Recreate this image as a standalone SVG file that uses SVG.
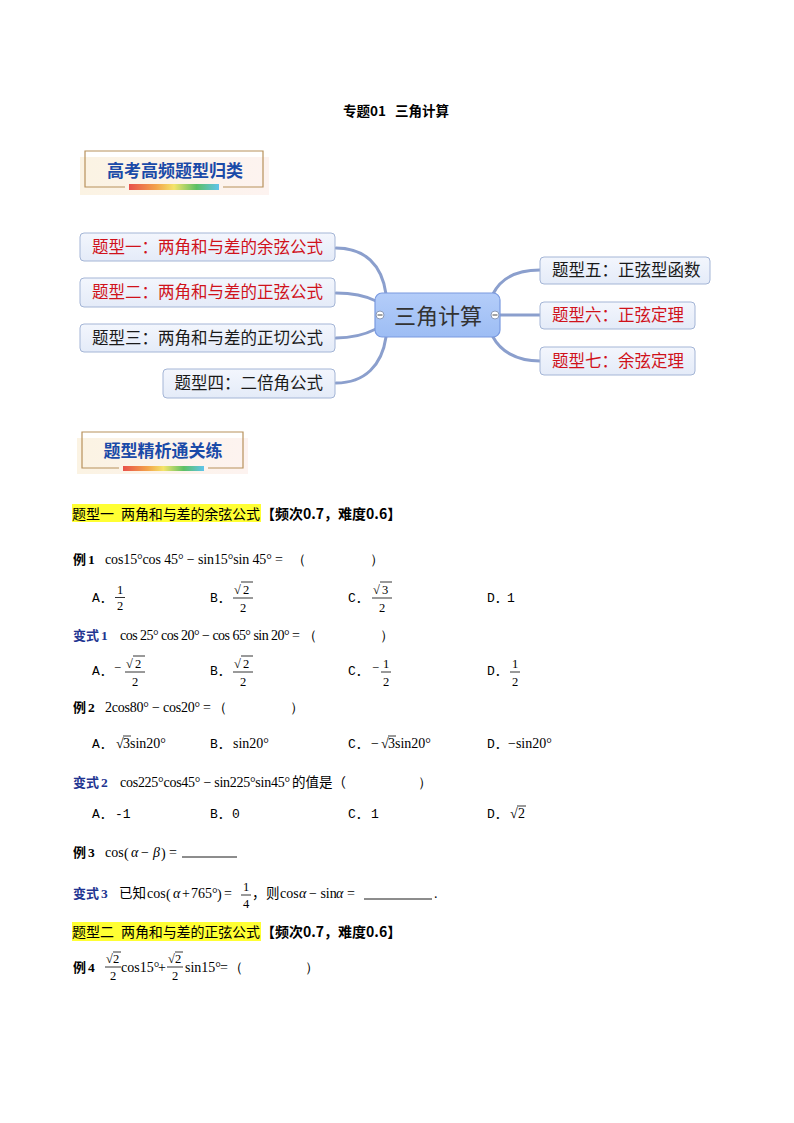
<svg xmlns="http://www.w3.org/2000/svg" width="794" height="1123" viewBox="0 0 794 1123">
<defs>
<linearGradient id="rainbow" x1="0" y1="0" x2="1" y2="0">
<stop offset="0" stop-color="#e8504a"/>
<stop offset="0.3" stop-color="#f3a24a"/>
<stop offset="0.5" stop-color="#f4e46a"/>
<stop offset="0.75" stop-color="#5cc064"/>
<stop offset="1" stop-color="#5ec4ec"/>
</linearGradient>
<linearGradient id="bannerbg" x1="0" y1="0" x2="1" y2="0">
<stop offset="0" stop-color="#fbf3e3"/>
<stop offset="1" stop-color="#fdf3f0"/>
</linearGradient>
<linearGradient id="nodebg" x1="0" y1="0" x2="0" y2="1">
<stop offset="0" stop-color="#f3f6fd"/>
<stop offset="1" stop-color="#e4ebf8"/>
</linearGradient>
<linearGradient id="centerbg" x1="0" y1="0" x2="0" y2="1">
<stop offset="0" stop-color="#b4cdf9"/>
<stop offset="1" stop-color="#9dbdf4"/>
</linearGradient>
<style>
.title{font-family:"Noto Sans CJK SC",sans-serif;font-size:13.5px;font-weight:bold;fill:#000;}
.banner{font-family:"Noto Sans CJK SC",sans-serif;font-size:17px;font-weight:bold;fill:#1a4aa8;}
.node rect{fill:url(#nodebg);stroke:#a4b5d6;stroke-width:1;}
.ntext{font-family:"Noto Sans CJK SC",sans-serif;font-size:16.5px;}
.red{fill:#d0121b;}
.blk{fill:#1a1a1a;}
.conn{fill:none;stroke:#8b9fcd;stroke-width:3;stroke-linecap:round;}
.hl{fill:#ffff33;}
.head{font-family:"Noto Sans CJK SC",sans-serif;font-size:14px;fill:#000;}
.headb{font-family:"Noto Sans CJK SC",sans-serif;font-size:14px;font-weight:bold;fill:#000;}
.lab{font-family:"Noto Sans CJK SC",sans-serif;font-size:13px;font-weight:bold;fill:#000;}
.labb{font-family:"Noto Sans CJK SC",sans-serif;font-size:13px;font-weight:bold;fill:#1f3591;}
.num{font-family:"Liberation Serif",serif;font-size:13.5px;font-weight:bold;}
.m{font-family:"Liberation Serif","Times New Roman",serif;font-size:14px;fill:#000;}
.ms{font-family:"Liberation Serif","Times New Roman",serif;font-size:12.5px;fill:#000;}
.opt{font-family:"Liberation Mono","Noto Sans CJK SC",monospace;font-size:13px;fill:#000;}
.zh{font-family:"Noto Sans CJK SC",sans-serif;font-size:13.5px;fill:#000;}
.bar{stroke:#000;stroke-width:0.8;}
.ul{stroke:#000;stroke-width:0.9;}
</style>
</defs>
<rect width="794" height="1123" fill="#fff"/>

<text class="title" x="343" y="116">专题01</text>
<text class="title" x="395" y="116">三角计算</text>

<g id="banner1">
<rect x="80" y="157" width="189" height="38" fill="url(#bannerbg)"/>
<path d="M125 187 H85 V151 H263 V187 H223" fill="none" stroke="#b8925c" stroke-width="1.2"/>
<rect x="129" y="184" width="90" height="6" fill="url(#rainbow)"/>
<text class="banner" x="175" y="177" text-anchor="middle">高考高频题型归类</text>
</g>

<g id="connectors">
<path class="conn" d="M336 248 C365 248 382 265 386 294"/>
<path class="conn" d="M336 293 C355 293 366 296 376 301"/>
<path class="conn" d="M336 338 C355 338 366 334 376 329"/>
<path class="conn" d="M336 383 C365 383 382 365 386 337"/>
<path class="conn" d="M493 294 C500 280 515 270 540 270"/>
<path class="conn" d="M500 315 H540"/>
<path class="conn" d="M493 337 C500 350 515 361 540 361"/>
</g>

<g id="center">
<rect x="375" y="293" width="125" height="44" rx="7" fill="url(#centerbg)" stroke="#7a9ae0" stroke-width="1.2"/>
<text x="438" y="324" text-anchor="middle" font-family="Noto Sans CJK SC, sans-serif" font-size="22" fill="#333">三角计算</text>
<circle cx="380" cy="315" r="4" fill="#fff" stroke="#8a9ab8" stroke-width="1"/>
<line x1="377.5" y1="315" x2="382.5" y2="315" stroke="#666" stroke-width="1.2"/>
<circle cx="495" cy="315" r="4" fill="#fff" stroke="#8a9ab8" stroke-width="1"/>
<line x1="492.5" y1="315" x2="497.5" y2="315" stroke="#666" stroke-width="1.2"/>
</g>

<g id="n1" class="node"><rect x="80" y="233" width="255" height="28" rx="4"/><text class="ntext red" x="323" y="253" text-anchor="end">题型一：两角和与差的余弦公式</text></g>
<g id="n2" class="node"><rect x="80" y="278" width="255" height="29" rx="4"/><text class="ntext red" x="323" y="298" text-anchor="end">题型二：两角和与差的正弦公式</text></g>
<g id="n3" class="node"><rect x="80" y="324" width="255" height="28" rx="4"/><text class="ntext blk" x="323" y="344" text-anchor="end">题型三：两角和与差的正切公式</text></g>
<g id="n4" class="node"><rect x="163" y="369" width="172" height="29" rx="4"/><text class="ntext blk" x="323" y="389" text-anchor="end">题型四：二倍角公式</text></g>
<g id="n5" class="node"><rect x="540" y="257" width="170" height="27" rx="4"/><text class="ntext blk" x="552" y="276">题型五：正弦型函数</text></g>
<g id="n6" class="node"><rect x="540" y="302" width="155" height="27" rx="4"/><text class="ntext red" x="552" y="321">题型六：正弦定理</text></g>
<g id="n7" class="node"><rect x="540" y="347" width="155" height="28" rx="4"/><text class="ntext red" x="552" y="367">题型七：余弦定理</text></g>

<g id="banner2">
<rect x="77" y="438" width="171" height="36" fill="url(#bannerbg)"/>
<path d="M119 468 H82 V432 H243 V468 H208" fill="none" stroke="#b8925c" stroke-width="1.2"/>
<rect x="123" y="466" width="81" height="5" fill="url(#rainbow)"/>
<text class="banner" x="163" y="457" text-anchor="middle">题型精析通关练</text>
</g>

<!-- Section 1 heading -->
<rect class="hl" x="72" y="504" width="189" height="18"/>
<text class="head" x="72" y="519">题型一</text>
<text class="head" x="121" y="519" textLength="139" lengthAdjust="spacing">两角和与差的余弦公式</text>
<text class="headb" x="261" y="519">【频次0.7，难度0.6】</text>

<!-- 例1 -->
<text class="lab" x="73" y="564">例</text><text class="num" x="88" y="564">1</text>
<text class="m" x="105" y="564" textLength="178" lengthAdjust="spacing">cos15°cos 45° − sin15°sin 45° =</text>
<text class="m" x="292" y="564">（</text>
<text class="m" x="370" y="564">）</text>

<text class="opt" x="92" y="602">A．</text>
<text class="ms" x="120" y="594" text-anchor="middle">1</text><line class="bar" x1="115" y1="597.5" x2="125" y2="597.5"/><text class="ms" x="120" y="610" text-anchor="middle">2</text>
<text class="opt" x="210" y="602">B．</text>
<text class="ms" x="234" y="594">√</text><line class="bar" x1="241" y1="582" x2="253" y2="582"/><text class="ms" x="243" y="594">2</text><line class="bar" x1="233" y1="598" x2="253" y2="598"/><text class="ms" x="243" y="612" text-anchor="middle">2</text>
<text class="opt" x="348" y="602">C．</text>
<text class="ms" x="373" y="594">√</text><line class="bar" x1="380" y1="582" x2="392" y2="582"/><text class="ms" x="382" y="594">3</text><line class="bar" x1="372" y1="598" x2="392" y2="598"/><text class="ms" x="382" y="612" text-anchor="middle">2</text>
<text class="opt" x="487" y="602">D．</text><text class="opt" x="507" y="602">1</text>

<!-- 变式1 -->
<text class="labb" x="73" y="640">变式</text><text class="num" x="101" y="640" fill="#1f3591">1</text>
<text class="m" x="120" y="640" textLength="180" lengthAdjust="spacing">cos 25° cos 20° − cos 65° sin 20° =</text>
<text class="m" x="303" y="640">（</text>
<text class="m" x="380" y="640">）</text>

<text class="opt" x="92" y="675">A．</text>
<text class="ms" x="114" y="672">−</text>
<text class="ms" x="126" y="668">√</text><line class="bar" x1="133" y1="656" x2="145" y2="656"/><text class="ms" x="135" y="668">2</text><line class="bar" x1="125" y1="672" x2="145" y2="672"/><text class="ms" x="135" y="686" text-anchor="middle">2</text>
<text class="opt" x="210" y="675">B．</text>
<text class="ms" x="234" y="668">√</text><line class="bar" x1="241" y1="656" x2="253" y2="656"/><text class="ms" x="243" y="668">2</text><line class="bar" x1="233" y1="672" x2="253" y2="672"/><text class="ms" x="243" y="686" text-anchor="middle">2</text>
<text class="opt" x="348" y="675">C．</text>
<text class="ms" x="372" y="672">−</text>
<text class="ms" x="386" y="668" text-anchor="middle">1</text><line class="bar" x1="381" y1="672" x2="391" y2="672"/><text class="ms" x="386" y="686" text-anchor="middle">2</text>
<text class="opt" x="487" y="675">D．</text>
<text class="ms" x="515" y="668" text-anchor="middle">1</text><line class="bar" x1="510" y1="672" x2="520" y2="672"/><text class="ms" x="515" y="686" text-anchor="middle">2</text>

<!-- 例2 -->
<text class="lab" x="73" y="712">例</text><text class="num" x="88" y="712">2</text>
<text class="m" x="105" y="712" textLength="106" lengthAdjust="spacing">2cos80° − cos20° =</text>
<text class="m" x="213" y="712">（</text>
<text class="m" x="290" y="712">）</text>

<text class="opt" x="92" y="748">A．</text>
<text class="m" x="116" y="748">√</text><line class="bar" x1="123" y1="736" x2="131" y2="736"/><text class="m" x="123" y="748">3sin20°</text>
<text class="opt" x="210" y="748">B．</text><text class="m" x="233" y="748">sin20°</text>
<text class="opt" x="348" y="748">C．</text>
<text class="m" x="371" y="748">−</text><text class="m" x="381" y="748">√</text><line class="bar" x1="388" y1="736" x2="396" y2="736"/><text class="m" x="388" y="748">3sin20°</text>
<text class="opt" x="487" y="748">D．</text><text class="m" x="508" y="748">−sin20°</text>

<!-- 变式2 -->
<text class="labb" x="73" y="787">变式</text><text class="num" x="101" y="787" fill="#1f3591">2</text>
<text class="m" x="120" y="787" textLength="170" lengthAdjust="spacing">cos225°cos45° − sin225°sin45°</text>
<text class="zh" x="292" y="787">的值是（</text>
<text class="m" x="418" y="787">）</text>

<text class="opt" x="92" y="818">A．</text><text class="opt" x="115" y="818">-1</text>
<text class="opt" x="210" y="818">B．</text><text class="opt" x="232" y="818">0</text>
<text class="opt" x="348" y="818">C．</text><text class="opt" x="371" y="818">1</text>
<text class="opt" x="487" y="818">D．</text>
<text class="m" x="510" y="818">√</text><line class="bar" x1="517" y1="806" x2="526" y2="806"/><text class="m" x="518" y="818">2</text>

<!-- 例3 -->
<text class="lab" x="73" y="857">例</text><text class="num" x="88" y="857">3</text>
<text class="m" x="105" y="857">cos</text>
<text class="m" x="124" y="858" font-size="17">(</text>
<text class="m" x="131" y="857" font-style="italic">α</text>
<text class="m" x="141" y="857">−</text>
<text class="m" x="153" y="857" font-style="italic">β</text>
<text class="m" x="161" y="858" font-size="17">)</text>
<text class="m" x="169" y="857">=</text>
<line class="ul" x1="182" y1="857" x2="237" y2="857"/>

<!-- 变式3 -->
<text class="labb" x="73" y="898">变式</text><text class="num" x="101" y="898" fill="#1f3591">3</text>
<text class="zh" x="119" y="898">已知</text>
<text class="m" x="147" y="898">cos</text>
<text class="m" x="166" y="899" font-size="17">(</text>
<text class="m" x="173" y="898" font-style="italic">α</text>
<text class="m" x="182" y="898">+</text>
<text class="m" x="191" y="898" font-size="13">765°</text>
<text class="m" x="217" y="899" font-size="17">)</text>
<text class="m" x="224" y="898">=</text>
<text class="ms" x="246" y="891" text-anchor="middle">1</text><line class="bar" x1="241" y1="895" x2="251" y2="895"/><text class="ms" x="246" y="908" text-anchor="middle">4</text>
<text class="zh" x="252" y="898">，</text>
<text class="zh" x="266" y="898">则</text>
<text class="m" x="280" y="898">cos</text><text class="m" x="299" y="898" font-style="italic">α</text><text class="m" x="309" y="898">− sin</text><text class="m" x="336" y="898" font-style="italic">α</text><text class="m" x="347" y="898">=</text>
<line class="ul" x1="364" y1="899" x2="432" y2="899"/>
<text class="m" x="434" y="898">.</text>

<!-- Section 2 heading -->
<rect class="hl" x="72" y="922" width="189" height="19"/>
<text class="head" x="72" y="937">题型二</text>
<text class="head" x="121" y="937" textLength="139" lengthAdjust="spacing">两角和与差的正弦公式</text>
<text class="headb" x="261" y="937">【频次0.7，难度0.6】</text>

<!-- 例4 -->
<text class="lab" x="73" y="972">例</text><text class="num" x="88" y="972">4</text>
<text class="ms" x="106" y="963">√</text><line class="bar" x1="113" y1="952" x2="121" y2="952"/><text class="ms" x="113" y="963">2</text>
<line class="bar" x1="105" y1="967" x2="121" y2="967"/><text class="ms" x="113" y="980" text-anchor="middle">2</text>
<text class="m" x="121" y="972" font-size="13">cos15°</text>
<text class="m" x="158" y="972">+</text>
<text class="ms" x="168" y="963">√</text><line class="bar" x1="175" y1="952" x2="183" y2="952"/><text class="ms" x="175" y="963">2</text>
<line class="bar" x1="167" y1="967" x2="183" y2="967"/><text class="ms" x="175" y="980" text-anchor="middle">2</text>
<text class="m" x="185" y="972" font-size="13">sin15°</text>
<text class="m" x="220" y="972">=</text>
<text class="m" x="229" y="972">（</text>
<text class="m" x="305" y="972">）</text>
</svg>
